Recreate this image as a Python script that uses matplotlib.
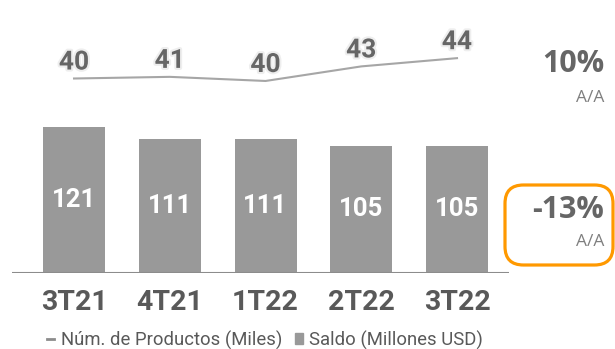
import matplotlib
matplotlib.use("Agg")
import matplotlib.pyplot as plt
import matplotlib.patheffects as pe
from matplotlib.patches import FancyBboxPatch, Rectangle
from matplotlib.lines import Line2D

# datos
trimestres = ["3T21", "4T21", "1T22", "2T22", "3T22"]
saldo = [121, 111, 111, 105, 105]               # Millones USD
productos = [40.4, 40.7, 39.95, 42.6, 44.1]     # Miles
var_productos = "10%"
var_saldo = "-13%"

W, H = 615, 349
fig = plt.figure(figsize=(W / 100, H / 100), dpi=100)

def fx(px):
    return px / W

def fy(py):
    return 1 - py / H

# ejes de barras: borde izq 12px, der 509px, base 272.7px, arriba 20px
ax = fig.add_axes([fx(12), fy(272.7), fx(509 - 12), (272.7 - 20) / H])
x = list(range(len(trimestres)))
ax.bar(x, saldo, width=0.648, color="#999999", zorder=2)
ax.set_xlim(-0.648, 4.543)
ax.set_ylim(0, 252.7 / 1.207)
for xi, v in zip(x, saldo):
    ax.text(xi, v / 2, f"{v}", ha="center", va="center", color="white",
            fontsize=18.5, fontweight="bold", family="Roboto")
for s in ax.spines.values():
    s.set_visible(False)
ax.axhline(0, color="#8c8c8c", lw=1.5, zorder=3)
ax.set_yticks([])
ax.set_xticks(x)
ax.set_xticklabels(trimestres, fontsize=20.5, fontweight="bold", family="Roboto",
                   color="#595959")
ax.tick_params(axis="x", length=0, pad=12)
ax.patch.set_alpha(0)

# linea de productos
ax2 = ax.twinx()
ax2.set_ylim(44 - 214 / 5.5, 44 - 214 / 5.5 + 252.7 / 5.5)
ax2.plot(x, productos, color="#a6a6a6", lw=1.5)
for xi, v in zip(x, productos):
    ax2.annotate(f"{v:.0f}", (xi, v), xytext=(0, 11.5), textcoords="offset points",
                 ha="center", va="center", fontsize=19, fontweight="bold",
                 family="Roboto", color="#666666",
                 path_effects=[pe.withStroke(linewidth=3, foreground="#eeeeee")])
ax2.set_yticks([])
for s in ax2.spines.values():
    s.set_visible(False)

# variaciones a la derecha
fig.text(fx(604), fy(64), var_productos, ha="right", va="center", fontsize=22,
         fontweight="bold", family="Open Sans", color="#666666")
fig.text(fx(604), fy(98), "A/A", ha="right", va="center", fontsize=12.5,
         family="Open Sans", color="#7f7f7f")
fig.text(fx(604), fy(210), var_saldo, ha="right", va="center", fontsize=22,
         fontweight="bold", family="Open Sans", color="#666666")
fig.text(fx(604), fy(242), "A/A", ha="right", va="center", fontsize=12.5,
         family="Open Sans", color="#7f7f7f")
box = FancyBboxPatch((fx(505), fy(265)), fx(613 - 505), (265 - 185) / H,
                     boxstyle="round,pad=0,rounding_size=0.03",
                     transform=fig.transFigure, fill=False,
                     edgecolor="#FF9900", lw=2.3, mutation_aspect=W / H)
fig.add_artist(box)

# leyenda
handles = [Line2D([], [], color="#8c8c8c", lw=2),
           Rectangle((0, 0), 1, 1, color="#999999")]
fig.legend(handles, ["Núm. de Productos (Miles)", "Saldo (Millones USD)"],
           loc="center", bbox_to_anchor=(fx(265), fy(340)), ncol=2, frameon=False,
           prop={"family": "Roboto", "size": 13.3}, labelcolor="#595959",
           handlelength=0.4, handleheight=0.5, handletextpad=0.35,
           columnspacing=0.7)

fig.savefig("out.png", dpi=100)
